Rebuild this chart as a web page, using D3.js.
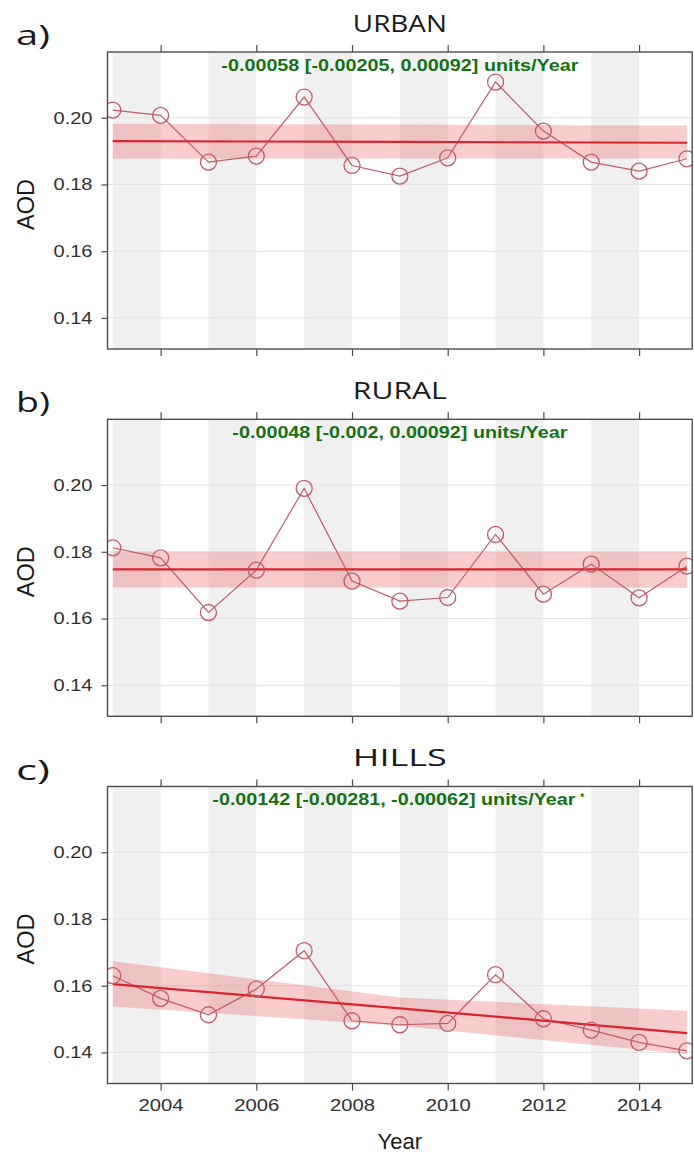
<!DOCTYPE html>
<html>
<head>
<meta charset="utf-8">
<script src="https://cdn.jsdelivr.net/npm/d3@7"></script>
<style>
  body { margin: 0; background: #fff; }
  svg { display: block; }
</style>
</head>
<body>
<script>
// data
var years = [2003, 2004, 2005, 2006, 2007, 2008, 2009, 2010, 2011, 2012, 2013, 2014, 2015];
var urban = [0.2023, 0.2007, 0.1867, 0.1885, 0.2062, 0.1857, 0.1825, 0.1880, 0.2107, 0.1960, 0.1867, 0.1840, 0.1877];
var rural = [0.1812, 0.1782, 0.1618, 0.1745, 0.1990, 0.1712, 0.1652, 0.1663, 0.1852, 0.1673, 0.1763, 0.1662, 0.1757];
var hills = [0.1630, 0.1562, 0.1513, 0.1590, 0.1705, 0.1495, 0.1483, 0.1487, 0.1633, 0.1501, 0.1467, 0.1430, 0.1405];

// trend line and its band, at the years listed in trendYears
var trendYears = [2003, 2009, 2015];
var urbanTrend = [0.1930, 0.19275, 0.1925];
var urbanUpper = [0.1982, 0.19795, 0.1977];
var urbanLower = [0.1877, 0.18775, 0.1878];
var ruralTrend = [0.1747, 0.1747, 0.1747];
var ruralUpper = [0.1800, 0.1800, 0.1800];
var ruralLower = [0.1693, 0.1693, 0.1692];
var hillsTrend = [0.1605, 0.1532, 0.1458];
var hillsUpper = [0.1673, 0.1565, 0.1525];
var hillsLower = [0.1538, 0.1480, 0.1395];

var titles = ['URBAN', 'RURAL', 'HILLS'];
var letters = ['a)', 'b)', 'c)'];
var slopeText = [
  '-0.00058 [-0.00205, 0.00092] units/Year',
  '-0.00048 [-0.002, 0.00092] units/Year',
  '-0.00142 [-0.00281, -0.00062] units/Year'
];
var stars = ['', '', '*'];
var yTicks = [0.14, 0.16, 0.18, 0.20];
var xTicks = [2004, 2006, 2008, 2010, 2012, 2014];
var shadeYears = [2003, 2005, 2007, 2009, 2011, 2013];

var panels = [
  { values: urban, trend: urbanTrend, upper: urbanUpper, lower: urbanLower },
  { values: rural, trend: ruralTrend, upper: ruralUpper, lower: ruralLower },
  { values: hills, trend: hillsTrend, upper: hillsUpper, lower: hillsLower }
];

var width = 694;
var height = 1159;
var left = 107.5, right = 692.2;
var panelH = 297;
var tops = [52, 419.3, 786.5];
var slopeW = [357, 335, 363];

var pointColor = '#c25c66';
var trendColor = '#d7262e';
var frameColor = '#4d4d4d';
var textColor = '#303030';
var green = '#137313';

var svg = d3.select('body').append('svg')
  .attr('width', width)
  .attr('height', height);

var x = d3.scaleLinear()
  .domain([2002.89, 2015.11])
  .range([left, right]);

panels.forEach(function (p, i) {
  var top = tops[i];
  var y = d3.scaleLinear()
    .domain([0.1307, 0.2197])
    .range([top + panelH, top]);

  var g = svg.append('g');

  g.append('clipPath').attr('id', 'clip' + i)
    .append('rect')
    .attr('x', left).attr('y', top)
    .attr('width', right - left).attr('height', panelH);

  var inner = g.append('g').attr('clip-path', 'url(#clip' + i + ')');

  // alternating year shading
  inner.selectAll('rect.shade')
    .data(shadeYears)
    .enter().append('rect')
    .attr('class', 'shade')
    .attr('x', function (d) { return x(d); })
    .attr('width', function (d) { return x(d + 1) - x(d); })
    .attr('y', top)
    .attr('height', panelH)
    .attr('fill', '#f0f0f0');

  // horizontal grid
  inner.selectAll('line.grid')
    .data(yTicks)
    .enter().append('line')
    .attr('x1', left).attr('x2', right)
    .attr('y1', function (d) { return y(d); })
    .attr('y2', function (d) { return y(d); })
    .attr('stroke', '#e3e3e3')
    .attr('stroke-width', 1);

  // confidence band
  var bandData = trendYears.map(function (yr, k) {
    return { year: yr, lo: p.lower[k], hi: p.upper[k], mid: p.trend[k] };
  });
  inner.append('path')
    .datum(bandData)
    .attr('d', d3.area()
      .x(function (d) { return x(d.year); })
      .y0(function (d) { return y(d.lo); })
      .y1(function (d) { return y(d.hi); }))
    .attr('fill', '#e8474f')
    .attr('fill-opacity', 0.28);

  // observed values
  var pts = years.map(function (yr, k) { return { year: yr, v: p.values[k] }; });
  inner.append('path')
    .datum(pts)
    .attr('d', d3.line()
      .x(function (d) { return x(d.year); })
      .y(function (d) { return y(d.v); }))
    .attr('fill', 'none')
    .attr('stroke', pointColor)
    .attr('stroke-width', 1.2);

  // trend line
  inner.append('path')
    .datum(bandData)
    .attr('d', d3.line()
      .x(function (d) { return x(d.year); })
      .y(function (d) { return y(d.mid); }))
    .attr('fill', 'none')
    .attr('stroke', trendColor)
    .attr('stroke-width', 2.2);

  inner.selectAll('circle')
    .data(pts)
    .enter().append('circle')
    .attr('cx', function (d) { return x(d.year); })
    .attr('cy', function (d) { return y(d.v); })
    .attr('r', 8)
    .attr('fill', 'none')
    .attr('stroke', pointColor)
    .attr('stroke-width', 1.3);

  // frame and ticks
  g.append('rect')
    .attr('x', left).attr('y', top)
    .attr('width', right - left).attr('height', panelH)
    .attr('fill', 'none')
    .attr('stroke', frameColor)
    .attr('stroke-width', 1.4);

  g.append('g')
    .attr('transform', 'translate(0,' + (top + panelH) + ')')
    .call(d3.axisBottom(x).tickValues(xTicks).tickSize(7)
      .tickFormat(i === 2 ? d3.format('d') : ''))
    .call(function (a) {
      a.select('.domain').remove();
      a.selectAll('line').attr('stroke', frameColor).attr('stroke-width', 1.2);
      a.selectAll('text')
        .attr('fill', textColor)
        .attr('font-family', 'Liberation Sans, Arial, sans-serif')
        .attr('font-size', 17)
        .attr('dy', '1.0em')
        .attr('textLength', 45)
        .attr('lengthAdjust', 'spacingAndGlyphs');
    });

  g.append('g')
    .attr('transform', 'translate(0,' + top + ')')
    .call(d3.axisTop(x).tickValues(xTicks).tickSize(7).tickFormat(''))
    .call(function (a) {
      a.select('.domain').remove();
      a.selectAll('line').attr('stroke', frameColor).attr('stroke-width', 1.2);
    });

  g.append('g')
    .attr('transform', 'translate(' + left + ',0)')
    .call(d3.axisLeft(y).tickValues(yTicks).tickSize(6).tickPadding(9).tickFormat(d3.format('.2f')))
    .call(function (a) {
      a.select('.domain').remove();
      a.selectAll('line').attr('stroke', frameColor).attr('stroke-width', 1.2);
      a.selectAll('text')
        .attr('fill', textColor)
        .attr('font-family', 'Liberation Sans, Arial, sans-serif')
        .attr('font-size', 16.5)
        .attr('textLength', 39)
        .attr('lengthAdjust', 'spacingAndGlyphs');
    });

  // texts
  var cx = (left + right) / 2;
  g.append('text')
    .attr('x', cx).attr('y', top - 20.5)
    .attr('text-anchor', 'middle')
    .attr('font-family', 'Open Sans, sans-serif')
    .attr('font-size', 23)
    .attr('fill', '#1a1a1a')
    .attr('textLength', 94)
    .attr('lengthAdjust', 'spacingAndGlyphs')
    .text(titles[i]);

  g.append('text')
    .attr('x', 16).attr('y', top - 7)
    .attr('font-family', 'Open Sans, sans-serif')
    .attr('font-size', 27)
    .attr('fill', '#1a1a1a')
    .attr('textLength', 34)
    .attr('lengthAdjust', 'spacingAndGlyphs')
    .text(letters[i]);

  g.append('text')
    .attr('x', cx - (stars[i] ? 6 : 0)).attr('y', top + 18.5)
    .attr('text-anchor', 'middle')
    .attr('font-family', 'Liberation Sans, Arial, sans-serif')
    .attr('font-weight', 'bold')
    .attr('font-size', 17)
    .attr('fill', green)
    .attr('textLength', slopeW[i])
    .attr('lengthAdjust', 'spacingAndGlyphs')
    .text(slopeText[i]);

  if (stars[i]) {
    g.append('text')
      .attr('x', cx - 6 + slopeW[i] / 2 + 5).attr('y', top + 14)
      .attr('font-family', 'Liberation Sans, Arial, sans-serif')
      .attr('font-weight', 'bold')
      .attr('font-size', 10)
      .attr('fill', green)
      .text(stars[i]);
  }

  g.append('text')
    .attr('transform', 'translate(34,' + (top + panelH / 2 + 4) + ') rotate(-90)')
    .attr('text-anchor', 'middle')
    .attr('font-family', 'Liberation Sans, Arial, sans-serif')
    .attr('font-size', 23.5)
    .attr('fill', '#1a1a1a')
    .text('AOD');
});

svg.append('text')
  .attr('x', (left + right) / 2).attr('y', 1149)
  .attr('text-anchor', 'middle')
  .attr('font-family', 'Liberation Sans, Arial, sans-serif')
  .attr('font-size', 22)
  .attr('fill', '#1a1a1a')
  .text('Year');
</script>
</body>
</html>
